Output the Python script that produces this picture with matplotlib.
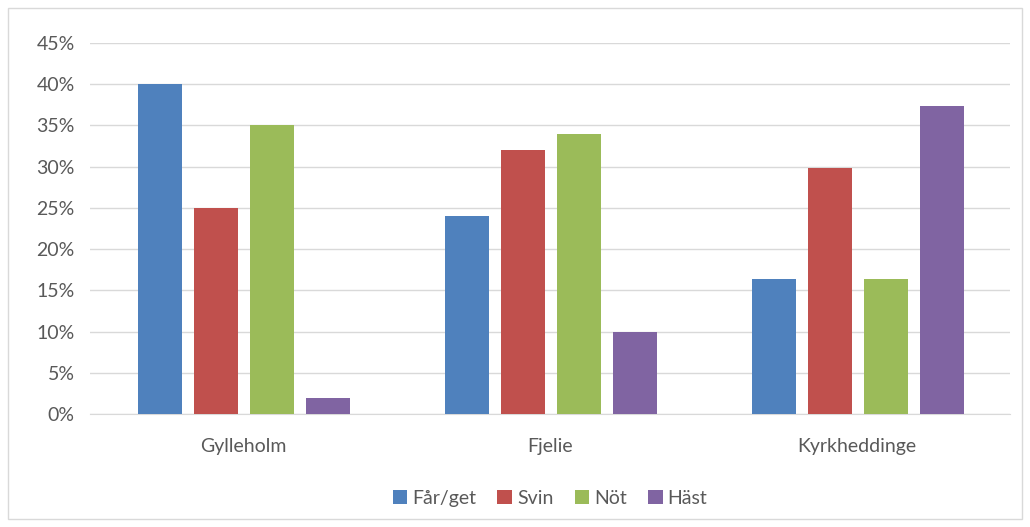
import matplotlib.pyplot as plt
import numpy as np
from matplotlib.ticker import FuncFormatter

# Data
categories = ["Gylleholm", "Fjelie", "Kyrkheddinge"]
series_names = ["Får/get", "Svin", "Nöt", "Häst"]
far_get = [40, 24, 16.4]
svin = [25, 32, 29.8]
not_ = [35, 34, 16.4]
hast = [2, 10, 37.3]
colors = ["#4f81bd", "#c0504d", "#9bbb59", "#8064a2"]

plt.rcParams["font.family"] = ["Lato", "DejaVu Sans"]

fig = plt.figure(figsize=(10.30, 5.27), dpi=100)
ax = fig.add_axes([90 / 1030, 1 - 414 / 527, 920 / 1030, 371 / 527])

# Light frame round the whole chart
fig.patches.append(plt.Rectangle((8 / 1030, 8 / 527), 1014 / 1030, 511 / 527,
                                 transform=fig.transFigure, fill=False,
                                 edgecolor="#d9d9d9", linewidth=1))

x = np.arange(len(categories))
step = 0.1826
width = 0.1435
for i, (vals, name) in enumerate(zip([far_get, svin, not_, hast], series_names)):
    ax.bar(x + (i - 1.5) * step + 0.003, vals, width, color=colors[i], label=name, zorder=3)

ax.set_xlim(-0.5, 2.5)
ax.set_ylim(0, 45)
ax.set_yticks(np.arange(0, 46, 5))
ax.yaxis.set_major_formatter(FuncFormatter(lambda v, p: f"{v:.0f}%"))
ax.set_xticks(x)
ax.set_xticklabels(categories)
ax.grid(axis="y", color="#d9d9d9", linewidth=1, zorder=0)
for s in ["top", "right", "left"]:
    ax.spines[s].set_visible(False)
ax.spines["bottom"].set_color("#d9d9d9")
ax.tick_params(axis="both", length=0, labelsize=14, colors="#595959", pad=11)
ax.tick_params(axis="x", pad=17)

ax.legend(loc="upper center", bbox_to_anchor=(0.5, -0.158), ncol=4, frameon=False,
          fontsize=14, labelcolor="#595959", handlelength=0.75, handleheight=0.75,
          handletextpad=0.25, columnspacing=1.1)

fig.savefig("out.png", dpi=100)
